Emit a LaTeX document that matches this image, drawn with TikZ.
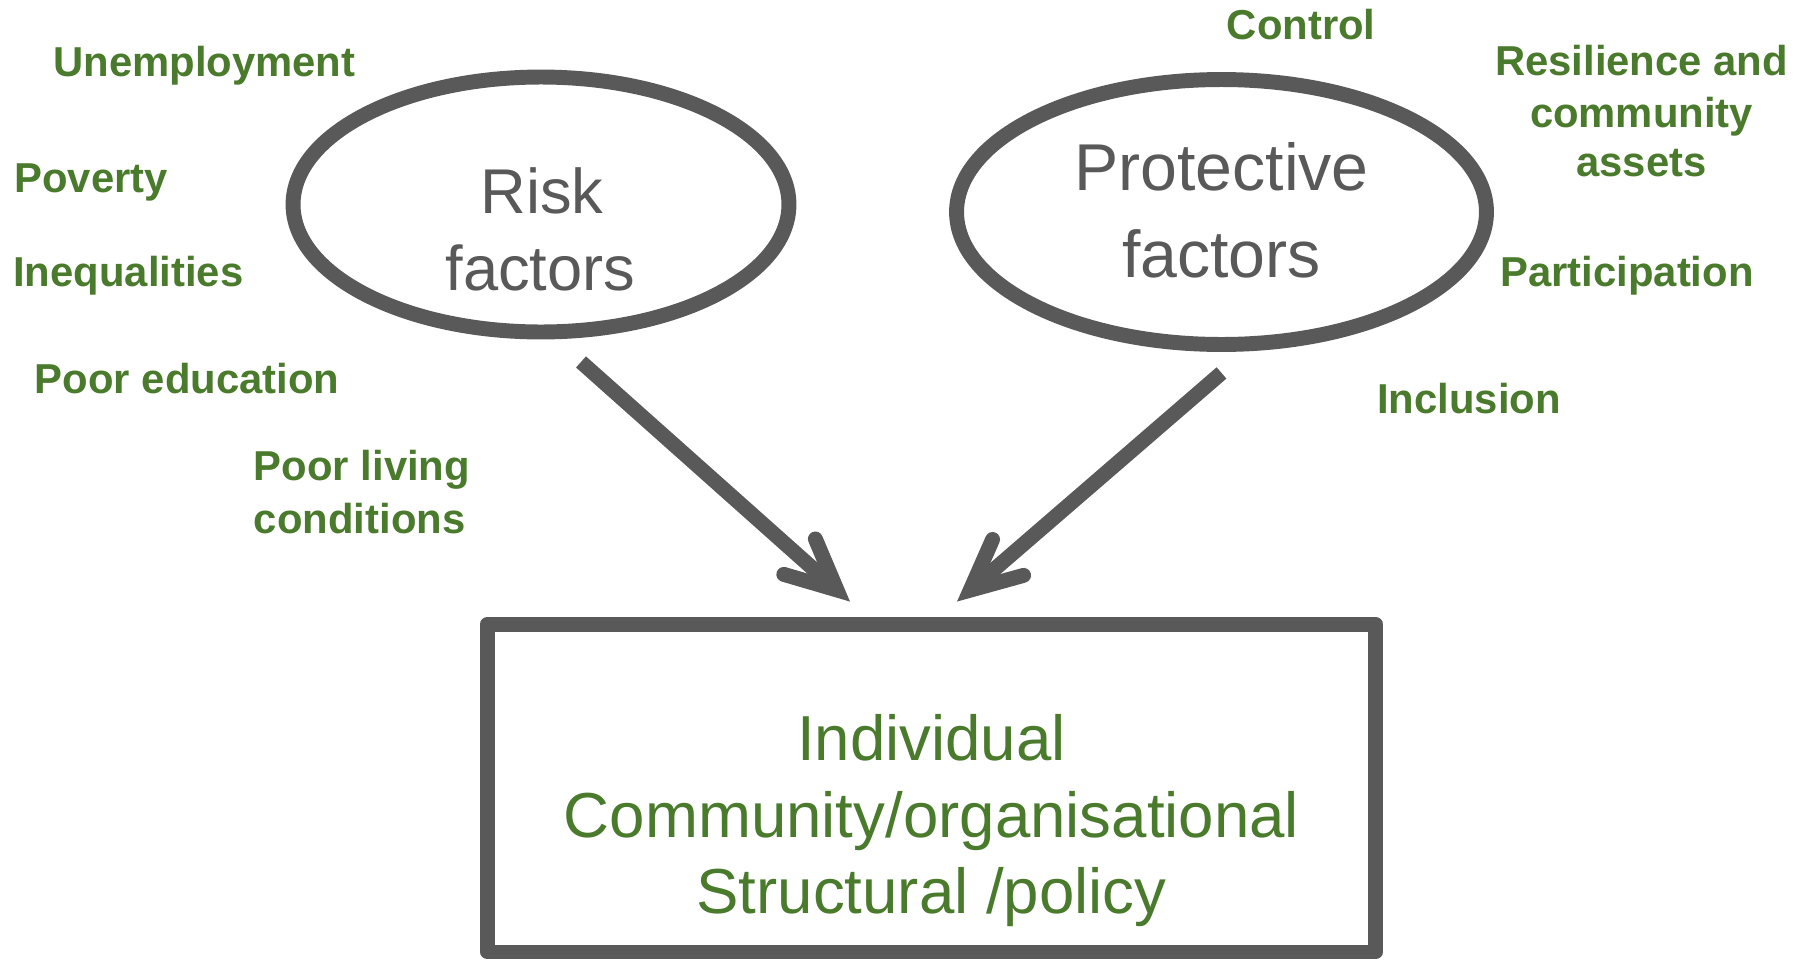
\documentclass[tikz,border=0pt]{standalone}
\usepackage{fontspec}
\setmainfont{Liberation Sans}
\usetikzlibrary{arrows.meta,shapes.geometric,calc}
\definecolor{lineGray}{HTML}{595959}
\definecolor{txtGreen}{HTML}{4A7A2C}
\begin{document}
\begin{tikzpicture}[x=0.02cm,y=-0.02cm,
  ell/.style={ellipse, draw=lineGray, line width=8.5pt, inner sep=0pt},
  frame/.style={rectangle, draw=lineGray, line width=8.5pt, line join=round, inner sep=0pt},
  factor/.style={text=txtGreen, font=\fontsize{23.8}{29}\selectfont\bfseries, inner sep=0pt},
  big/.style={text=lineGray, font=\fontsize{36}{43}\selectfont, inner sep=0pt},
  bigger/.style={text=lineGray, font=\fontsize{37.7}{45}\selectfont, inner sep=0pt},
  level/.style={text=txtGreen, font=\fontsize{36.2}{43}\selectfont, inner sep=0pt},
  arr/.style={draw=lineGray, line width=8.5pt,
    -{Straight Barb[length=28.5pt,width=27pt,line cap=round,line join=miter]}}
]
\useasboundingbox (0,0) rectangle (1808,960);

% shapes
\node[ell, minimum width=9.92cm, minimum height=5.1cm] (risk) at (541,204.5) {};
\node[ell, minimum width=10.6cm, minimum height=5.3cm] (prot) at (1221.5,212) {};
\node[frame, minimum width=17.76cm, minimum height=6.56cm] (box) at (931.5,788) {};

% texts inside shapes
\node[big, anchor=base] (risk1) at (542,213) {Risk};
\node[big, anchor=base] (risk2) at (540.5,290) {factors};
\node[bigger, anchor=base] (prot1) at (1221.5,190) {Protective};
\node[bigger, anchor=base] (prot2) at (1221.5,277) {factors};
\node[level, anchor=base] (lev1) at (931.5,760) {Individual};
\node[level, anchor=base] (lev2) at (931.5,837) {Community/organisational};
\node[level, anchor=base] (lev3) at (931.5,913) {Structural /policy};

% risk factor labels
\node[factor, anchor=base west] (unemp) at (53,76) {Unemployment};
\node[factor, anchor=base west] (pov) at (14,192) {Poverty};
\node[factor, anchor=base west] (ineq) at (13,286) {Inequalities};
\node[factor, anchor=base west] (educ) at (34.6,393) {Poor education};
\node[factor, anchor=base west] (liv1) at (253.6,480) {Poor living};
\node[factor, anchor=base west] (liv2) at (253.6,533) {conditions};

% protective factor labels
\node[factor, anchor=base west] (ctrl) at (1226.5,39) {Control};
\node[factor, anchor=base] (res1) at (1641.5,75) {Resilience and};
\node[factor, anchor=base] (res2) at (1641.5,127) {community};
\node[factor, anchor=base] (res3) at (1641.5,176) {assets};
\node[factor, anchor=base west] (part) at (1500,286) {Participation};
\node[factor, anchor=base west] (incl) at (1377,413) {Inclusion};

% connectors
\coordinate (rA) at ([shift={(40,22.5)}]risk.south);
\coordinate (rB) at ([shift={(-81.5,-15)}]box.north);
\coordinate (pA) at ([shift={(0,21)}]prot.south);
\coordinate (pB) at ([shift={(25.5,-15)}]box.north);
\draw[arr] (rA) -- (rB);
\draw[arr] (pA) -- (pB);
\end{tikzpicture}
\end{document}
